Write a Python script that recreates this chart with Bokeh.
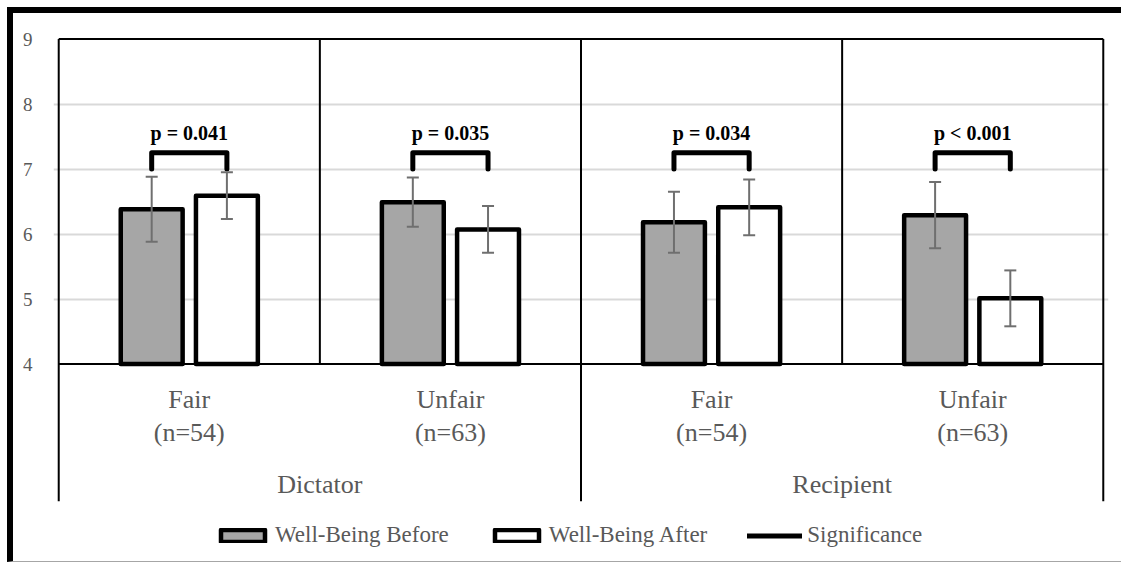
from bokeh.plotting import figure
from bokeh.models import Range1d, FixedTicker, ColumnDataSource, Whisker, TeeHead, Legend, LegendItem
from bokeh.embed import file_html
from bokeh.resources import INLINE
from bokeh.core.properties import value

# ---- data ----
roles = ["Dictator", "Recipient"]
conditions = ["Fair", "Unfair", "Fair", "Unfair"]
sample_sizes = ["(n=54)", "(n=63)", "(n=54)", "(n=63)"]
before_mean = [6.38, 6.49, 6.18, 6.29]
before_err = [0.50, 0.38, 0.47, 0.51]
after_mean = [6.59, 6.07, 6.41, 5.01]
after_err = [0.36, 0.36, 0.43, 0.43]
p_labels = ["p = 0.041", "p = 0.035", "p = 0.034", "p < 0.001"]
y_ticks = [4, 5, 6, 7, 8, 9]
grid_ticks = [5, 6, 7, 8]

# ---- layout constants ----
FONT = "Liberation Serif"
GRAY_TEXT = "#595959"
n = len(conditions)
centers = [i + 0.5 for i in range(n)]
off = 0.144
bw = 0.237
base = 4
ytop = 9
ybot = 0.854
bracket_lo, bracket_hi = 7.0, 7.25

p = figure(width=1114, height=555, output_backend="svg", toolbar_location=None,
           x_range=Range1d(-0.02, n + 0.02), y_range=Range1d(ybot, 9.1),
           x_axis_location=None, min_border_left=40, min_border_right=19,
           min_border_top=19, min_border_bottom=0)
p.styles = {"margin-left": "7px", "margin-top": "7px",
            "border-left": "6px solid black", "border-top": "6px solid black",
            "border-bottom": "1px solid #a6a6a6"}
p.outline_line_color = None
p.background_fill_color = "white"
p.border_fill_color = "white"

# y axis
p.yaxis.ticker = FixedTicker(ticks=y_ticks)
p.yaxis.axis_line_color = None
p.yaxis.major_tick_line_color = None
p.yaxis.minor_tick_line_color = None
p.yaxis.major_label_text_font = FONT
p.yaxis.major_label_text_font_size = "19px"
p.yaxis.major_label_text_color = GRAY_TEXT
p.yaxis.major_label_standoff = 15
p.ygrid.ticker = FixedTicker(ticks=grid_ticks)
p.ygrid.grid_line_color = "#d9d9d9"
p.ygrid.grid_line_width = 2
p.xgrid.visible = False

# frame lines
p.segment(x0=[0], y0=[ytop], x1=[n], y1=[ytop], line_color="black", line_width=2)
p.segment(x0=[0], y0=[base], x1=[n], y1=[base], line_color="black", line_width=2)
bounds = list(range(n + 1))
p.segment(x0=bounds, y0=[ytop] * len(bounds), x1=bounds,
          y1=[1.89 if b % 2 == 0 else base for b in bounds],
          line_color="black", line_width=2)

# bars
src_b = ColumnDataSource(dict(x=[c - off for c in centers], top=before_mean,
                              up=[m + e for m, e in zip(before_mean, before_err)],
                              lo=[m - e for m, e in zip(before_mean, before_err)]))
src_a = ColumnDataSource(dict(x=[c + off for c in centers], top=after_mean,
                              up=[m + e for m, e in zip(after_mean, after_err)],
                              lo=[m - e for m, e in zip(after_mean, after_err)]))
rb = p.vbar(x="x", top="top", bottom=base, width=bw, source=src_b,
            fill_color="#a6a6a6", line_color="black", line_width=4.5, line_join="round")
ra = p.vbar(x="x", top="top", bottom=base, width=bw, source=src_a,
            fill_color="white", line_color="black", line_width=4.5, line_join="round")

for s in (src_b, src_a):
    w = Whisker(base="x", upper="up", lower="lo", source=s, dimension="height",
                line_color="#6f6f6f", line_width=2, level="annotation",
                upper_head=TeeHead(size=12, line_color="#6f6f6f", line_width=2),
                lower_head=TeeHead(size=12, line_color="#6f6f6f", line_width=2))
    p.add_layout(w)

# significance brackets
xs = [[c - off, c - off, c + off, c + off] for c in centers]
ys = [[bracket_lo, bracket_hi, bracket_hi, bracket_lo] for _ in centers]
rs = p.multi_line(xs=xs, ys=ys, line_color="black", line_width=5,
                  line_join="round", line_cap="round")
p.text(x=centers, y=[7.55] * n, text=p_labels, text_font=value(FONT),
       text_font_style="bold", text_font_size="20px", text_color="black",
       text_align="center", text_baseline="middle")

# category labels
p.text(x=centers, y=[3.45] * n, text=conditions, text_font=value(FONT),
       text_font_size="26px", text_color=GRAY_TEXT, text_align="center", text_baseline="middle")
p.text(x=centers, y=[2.94] * n, text=sample_sizes, text_font=value(FONT),
       text_font_size="26px", text_color=GRAY_TEXT, text_align="center", text_baseline="middle")
p.text(x=[1.0, 3.0], y=[2.15, 2.15], text=roles, text_font=value(FONT),
       text_font_size="26px", text_color=GRAY_TEXT, text_align="center", text_baseline="middle")

legend = Legend(items=[LegendItem(label="Well-Being Before", renderers=[rb]),
                       LegendItem(label="Well-Being After", renderers=[ra]),
                       LegendItem(label="Significance", renderers=[rs])],
                orientation="horizontal", location=(162, 20),
                glyph_width=55, glyph_height=15, label_standoff=5, spacing=40,
                padding=0, margin=0, border_line_color=None, background_fill_alpha=0,
                label_text_font=FONT, label_text_font_size="23px",
                label_text_color=GRAY_TEXT)
p.add_layout(legend)

open("out.html", "w").write(file_html(p, INLINE))
